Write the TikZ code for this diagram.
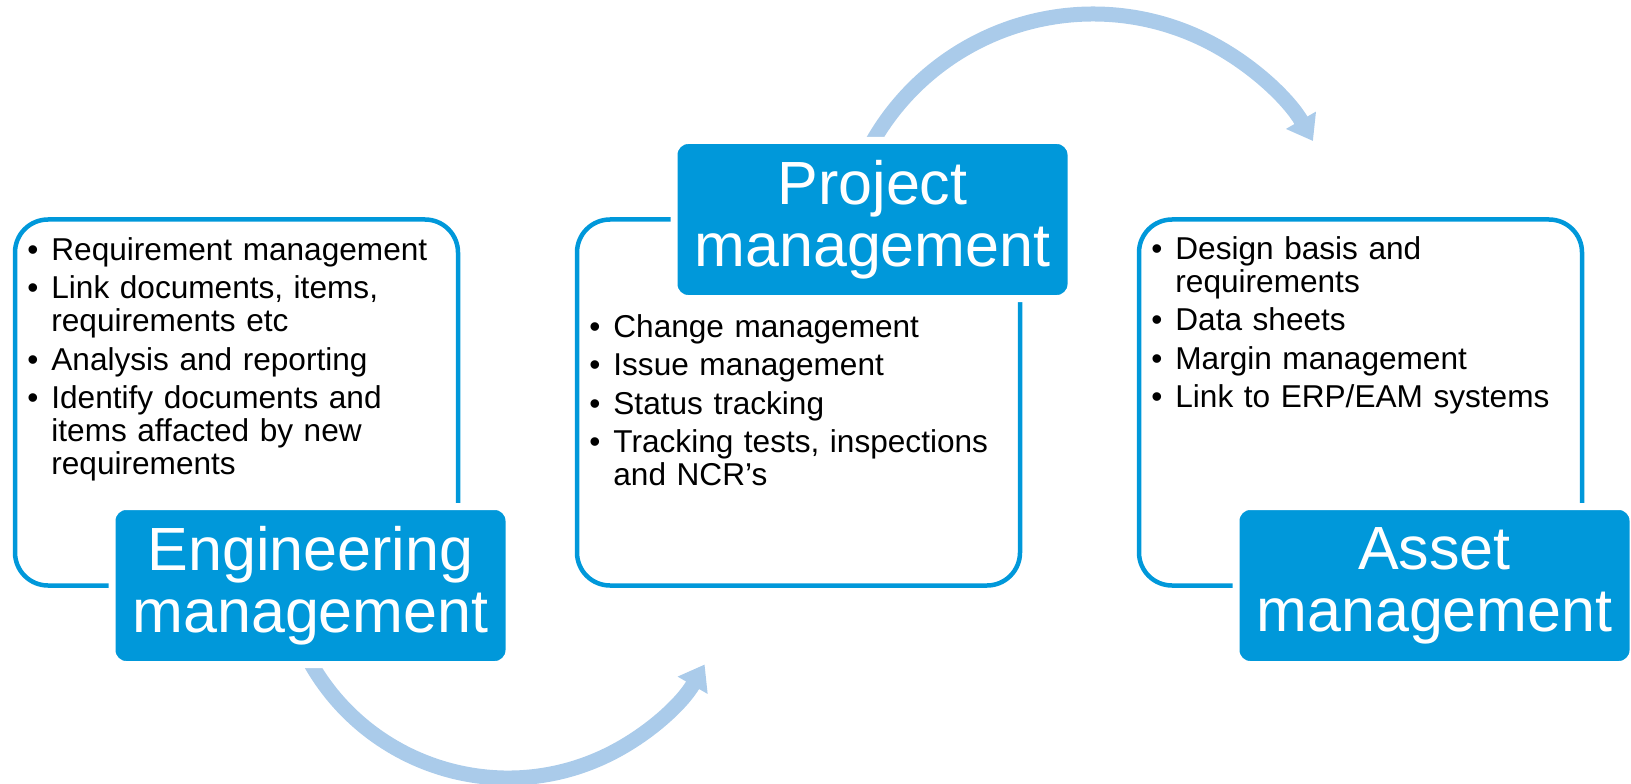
\documentclass[tikz,border=0pt]{standalone}
\usepackage{fontspec}
\setmainfont{Liberation Sans}
\usetikzlibrary{positioning, arrows.meta, backgrounds}
\definecolor{boxblue}{RGB}{0,152,218}
\definecolor{arrowblue}{RGB}{170,203,234}
\tikzstyle{areabox}=[draw=boxblue, line width=2.25pt, rounded corners=16.5pt, minimum width=221.5pt, minimum height=183pt, outer sep=0pt, inner sep=0pt]
\tikzstyle{headbox}=[fill=boxblue, draw=white, line width=3.5pt, rounded corners=7pt, minimum width=198.5pt, minimum height=79pt, inner sep=0pt, text=white, align=center, font=\fontsize{30.5}{31}\selectfont]
\tikzstyle{itemlist}=[anchor=base west, inner sep=0pt, text width=215pt, font=\fontsize{15.8}{16.4}\selectfont]
\tikzstyle{bigarrow}=[draw=arrowblue, line width=7.5pt, -{Triangle[length=12pt,width=16.5pt]}]
\newcommand{\bul}[1]{\setlength{\parskip}{2.8pt}\hangindent=12pt\hangafter=1\noindent\makebox[12pt][l]{\textbullet}#1\par}

\begin{document}
\begin{tikzpicture}[x=0.5pt, y=0.5pt]
		\useasboundingbox (0,0) rectangle (1631,783);
		
		\node[areabox] (eng) at (236.5,380.5) {};
		\node[areabox, right=59.5pt of eng] (proj) {};
		\node[areabox, right=59.5pt of proj] (asset) {};
		
		\node[headbox] (enghead) at ([xshift=37pt]eng.south) {Engineering\\management};
		\node[headbox] (projhead) at ([xshift=37pt]proj.north) {Project\\management};
		\node[headbox] (assethead) at ([xshift=37pt]asset.south) {Asset\\management};
		
		\node[itemlist] (englist) at ([xshift=6pt, yshift=-20.5pt]eng.north west) {%
			\bul{Requirement management}
			\bul{Link documents, items,\newline requirements etc}
			\bul{Analysis and reporting}
			\bul{Identify documents and\newline items affacted by new\newline requirements}};
		\node[itemlist] (projlist) at ([xshift=6pt, yshift=-59pt]proj.north west) {%
			\bul{Change management}
			\bul{Issue management}
			\bul{Status tracking}
			\bul{Tracking tests, inspections\newline and NCR’s}};
		\node[itemlist] (assetlist) at ([xshift=6pt, yshift=-20pt]asset.north west) {%
			\bul{Design basis and\newline requirements}
			\bul{Data sheets}
			\bul{Margin management}
			\bul{Link to ERP/EAM systems}};
		
		\begin{scope}[on background layer]
		\coordinate (arcA) at (304,132.5);
		\coordinate (arcB) at (868.7,634.2);
		\draw[bigarrow] (arcA) arc[start angle=206, end angle=330, radius=113.5pt];
		\draw[bigarrow] (arcB) arc[start angle=152, end angle=30, radius=127pt];
		\end{scope}
		
\end{tikzpicture}
\end{document}
